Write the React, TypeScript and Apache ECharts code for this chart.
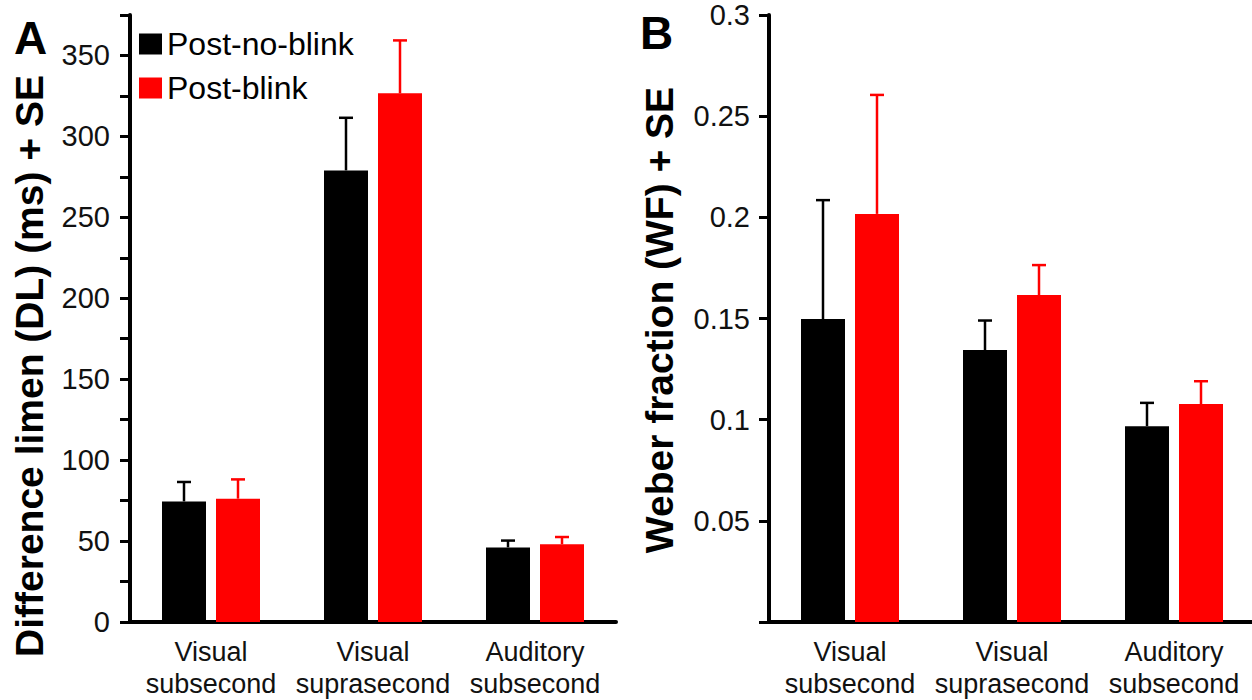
import React, { useEffect, useRef } from "react";
import * as echarts from "echarts";

const categories = ["Visual\nsubsecond", "Visual\nsuprasecond", "Auditory\nsubsecond"];
const seriesNames = ["Post-no-blink", "Post-blink"];

// Panel A: Difference limen (ms)
const noBlinkDL = [74.5, 279, 46.1];
const noBlinkDLSE = [12, 32.5, 4.2];
const blinkDL = [76.2, 326.6, 48];
const blinkDLSE = [11.9, 32.7, 4.5];

// Panel B: Weber fraction
const noBlinkWF = [0.1497, 0.1344, 0.0968];
const noBlinkWFSE = [0.0588, 0.0146, 0.0115];
const blinkWF = [0.2017, 0.1616, 0.1077];
const blinkWFSE = [0.0588, 0.0148, 0.0113];

const FONT = "'Liberation Sans', Arial, Helvetica, sans-serif";
const BAR_W = 44;
const BAR_GAP = 10;
const OFFSET = (BAR_W + BAR_GAP) / 2;

function errSeries(name: string, vals: number[], se: number[], axis: number, color: string, dir: number) {
  return {
    type: "custom",
    name,
    xAxisIndex: axis,
    yAxisIndex: axis,
    z: 5,
    data: vals.map((v, i) => [i, v, se[i]]),
    renderItem: (params: any, api: any) => {
      const ci = api.value(0);
      const v = api.value(1);
      const s = api.value(2);
      const base = api.coord([ci, v]);
      const top = api.coord([ci, v + s]);
      const x = base[0] + dir * OFFSET;
      const style = { stroke: color, lineWidth: 2.5 };
      return {
        type: "group",
        children: [
          { type: "line", shape: { x1: x, y1: base[1], x2: x, y2: top[1] }, style },
          { type: "line", shape: { x1: x - 7, y1: top[1], x2: x + 7, y2: top[1] }, style },
        ],
      };
    },
  };
}

export default function App() {
  const ref = useRef<HTMLDivElement>(null);
  useEffect(() => {
    const chart = echarts.init(ref.current!, null, { renderer: "svg" });
    const axisLineStyle = { color: "#000", width: 4 };
    const xAxisCommon = {
      type: "category",
      data: categories,
      axisLine: { show: true, lineStyle: axisLineStyle },
      axisTick: { show: false },
      axisLabel: { color: "#111", fontSize: 27, fontFamily: FONT, lineHeight: 32, margin: 14, interval: 0 },
    };
    const yTick = { show: true, length: 10, lineStyle: { color: "#000", width: 3 } };
    chart.setOption({
      animation: false,
      backgroundColor: "#fff",
      grid: [
        { left: 130, top: 15, width: 486, height: 607, outerBoundsMode: "none" },
        { left: 769, top: 15, width: 486, height: 607, outerBoundsMode: "none" },
      ],
      legend: {
        data: seriesNames,
        orient: "vertical",
        left: 139,
        top: 28,
        padding: 0,
        icon: "rect",
        itemWidth: 23,
        itemHeight: 21,
        itemGap: 12,
        textStyle: { fontSize: 32, lineHeight: 21, color: "#000", fontFamily: FONT },
      },
      xAxis: [
        { ...xAxisCommon, gridIndex: 0 },
        { ...xAxisCommon, gridIndex: 1 },
      ],
      yAxis: [
        {
          type: "value",
          gridIndex: 0,
          min: 0,
          max: 375,
          interval: 25,
          splitLine: { show: false },
          axisLine: { show: true, lineStyle: axisLineStyle },
          axisTick: yTick,
          axisLabel: {
            color: "#111",
            fontSize: 29,
            fontFamily: FONT,
            margin: 20,
            formatter: (v: number) => (v % 50 === 0 ? String(v) : ""),
          },
        },
        {
          type: "value",
          gridIndex: 1,
          min: 0,
          max: 0.3,
          interval: 0.05,
          splitLine: { show: false },
          axisLine: { show: true, lineStyle: axisLineStyle },
          axisTick: yTick,
          axisLabel: {
            color: "#111",
            fontSize: 29,
            fontFamily: FONT,
            margin: 19,
            formatter: (v: number) => (Math.abs(v) < 1e-9 ? "" : String(+v.toFixed(2))),
          },
        },
      ],
      series: [
        { type: "bar", name: seriesNames[0], xAxisIndex: 0, yAxisIndex: 0, data: noBlinkDL, barWidth: BAR_W, barGap: (BAR_GAP / BAR_W) * 100 + "%", itemStyle: { color: "#000" } },
        { type: "bar", name: seriesNames[1], xAxisIndex: 0, yAxisIndex: 0, data: blinkDL, barWidth: BAR_W, barGap: (BAR_GAP / BAR_W) * 100 + "%", itemStyle: { color: "#ff0000" } },
        { type: "bar", name: seriesNames[0], xAxisIndex: 1, yAxisIndex: 1, data: noBlinkWF, barWidth: BAR_W, barGap: (BAR_GAP / BAR_W) * 100 + "%", itemStyle: { color: "#000" } },
        { type: "bar", name: seriesNames[1], xAxisIndex: 1, yAxisIndex: 1, data: blinkWF, barWidth: BAR_W, barGap: (BAR_GAP / BAR_W) * 100 + "%", itemStyle: { color: "#ff0000" } },
        errSeries("errA0", noBlinkDL, noBlinkDLSE, 0, "#000", -1),
        errSeries("errA1", blinkDL, blinkDLSE, 0, "#ff0000", 1),
        errSeries("errB0", noBlinkWF, noBlinkWFSE, 1, "#000", -1),
        errSeries("errB1", blinkWF, blinkWFSE, 1, "#ff0000", 1),
      ],
      graphic: [
        {
          type: "text",
          x: 29,
          y: 366,
          rotation: Math.PI / 2,
          style: { text: "Difference limen (DL) (ms) + SE", fontSize: 39, fontWeight: "bold", fontFamily: FONT, fill: "#000", align: "center", verticalAlign: "middle" },
        },
        {
          type: "text",
          x: 659,
          y: 320,
          rotation: Math.PI / 2,
          style: { text: "Weber fraction (WF) + SE", fontSize: 39, fontWeight: "bold", fontFamily: FONT, fill: "#000", align: "center", verticalAlign: "middle" },
        },
        {
          type: "text",
          x: 14,
          y: 38,
          style: { text: "A", fontSize: 46, fontWeight: "bold", fontFamily: FONT, fill: "#000", align: "left", verticalAlign: "middle" },
        },
        {
          type: "text",
          x: 640,
          y: 33,
          style: { text: "B", fontSize: 46, fontWeight: "bold", fontFamily: FONT, fill: "#000", align: "left", verticalAlign: "middle" },
        },
      ],
    });
    return () => chart.dispose();
  }, []);
  return <div ref={ref} style={{ position: "absolute", left: 0, top: 0, width: 1252, height: 700 }} />;
}
